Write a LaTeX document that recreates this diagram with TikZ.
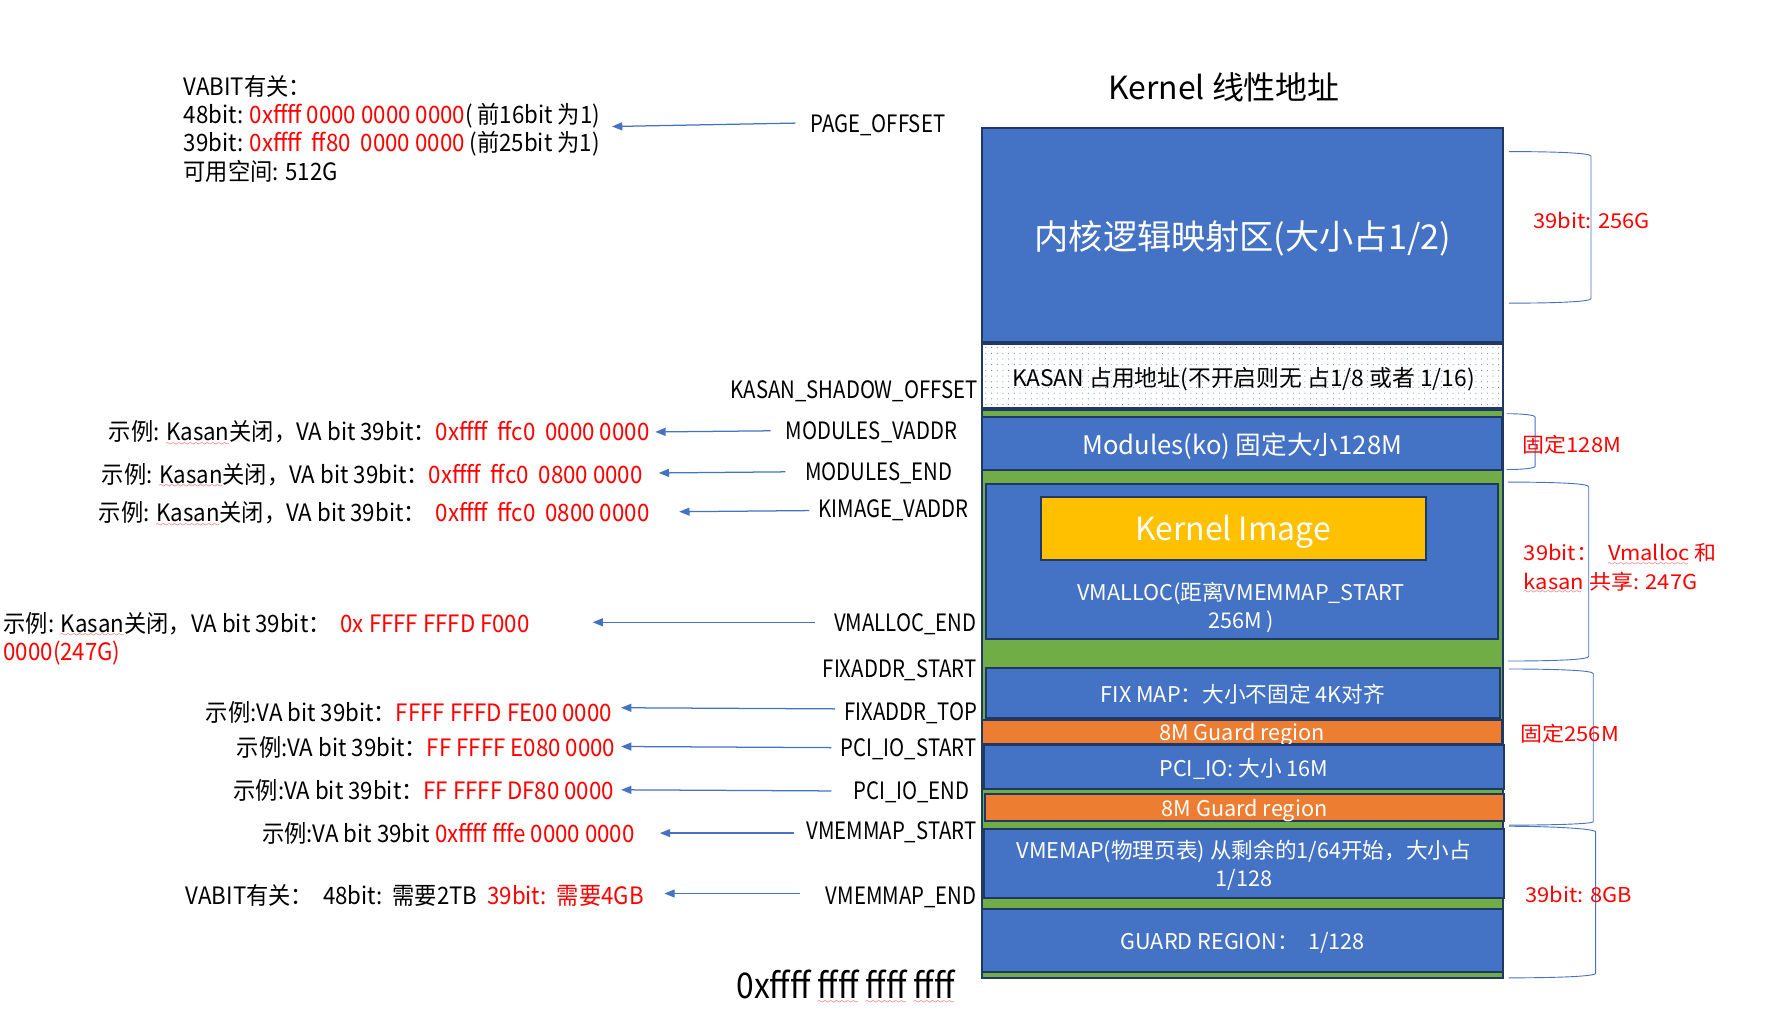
\documentclass[tikz,border=0pt]{standalone}
\usepackage{fontspec}
\usetikzlibrary{arrows.meta,patterns.meta}
\setmainfont{Noto Sans CJK SC}
\newfontfamily\cjk{Noto Sans CJK SC}
\newfontfamily\narrowf[FakeStretch=0.85]{Noto Sans CJK SC}
\newfontfamily\expf[FakeStretch=0.93]{Noto Sans CJK SC}
\newfontfamily\botf[FakeStretch=0.9]{Noto Sans CJK SC}
\newfontfamily\widef[FakeStretch=1.07]{Noto Sans CJK SC}
\definecolor{boxblue}{HTML}{4472C4}
\definecolor{navy}{HTML}{1F3864}
\definecolor{grn}{HTML}{70AD47}
\definecolor{orng}{HTML}{ED7D31}
\definecolor{ylw}{HTML}{FFC000}
\definecolor{arrblue}{HTML}{4472C4}
\definecolor{rd}{HTML}{FF0000}
\font\sixly=lasy6
\newsavebox\wbox
\newcommand\redwave[1]{\sbox\wbox{#1}\rlap{\usebox\wbox}\textcolor{rd}{\lower4pt\hbox to \wd\wbox{\leaders\hbox{\sixly\char58}\hfil}}}
\begin{document}
\begin{tikzpicture}[x=1pt,y=-1pt,
  blk/.style={draw=navy,line width=1.8pt,fill=boxblue,text=white,align=center,inner sep=0pt,text depth=0pt},
  btxt/.style={font=\cjk\fontsize{19}{25}\selectfont,text=white,align=center,inner sep=0pt},
  lab/.style={font=\narrowf\fontsize{21}{25}\selectfont,inner sep=0pt,align=left,text depth=0pt},
  exp/.style={font=\expf\fontsize{21}{24.7}\selectfont,inner sep=0pt,align=left,text depth=0pt},
  arr/.style={draw=arrblue,line width=1.1pt,-{Triangle[length=9pt,width=7pt]}},
  brc/.style={draw=arrblue,line width=0.8pt},
  rlab/.style={font=\widef\fontsize{18}{25}\selectfont,text=rd,anchor=west,inner sep=0pt,align=left,text depth=0pt}
]
\useasboundingbox (0,0) rectangle (1568,895);

% title
\node[font=\cjk\fontsize{28}{30}\selectfont] (title) at (1074,77) {Kernel 线性地址};

% column
\node[draw=navy,line width=1.8pt,fill=grn,minimum width=457pt,minimum height=498pt,inner sep=0pt] (col) at (1090.5,609) {};
\node[blk,minimum width=457pt,minimum height=188pt,font=\cjk\fontsize{30}{32}\selectfont] (lm) at (1090.5,206) {内核逻辑映射区(大小占1/2)};
\node[draw=navy,line width=1.8pt,fill=white,minimum width=457pt,minimum height=56pt,inner sep=0pt] (kasan) at (1090.5,330) {};
\fill[pattern={Dots[distance=5pt,radius=0.45pt]},pattern color=boxblue] ([shift={(2,-2)}]kasan.south west) rectangle ([shift={(-2,2)}]kasan.north east);
\node[font=\cjk\fontsize{20}{25}\selectfont,inner sep=0pt,text depth=0pt] (kasantxt) at (1091,331) {KASAN 占用地址(不开启则无 占1/8 或者 1/16)};
\node[blk,minimum width=456pt,minimum height=46pt,font=\cjk\fontsize{22.5}{25}\selectfont] (mod) at (1090,389) {Modules(ko) 固定大小128M};
\node[blk,minimum width=449pt,minimum height=136pt] (vm) at (1089.5,493) {};
\node[draw=navy,line width=1.8pt,fill=ylw,text=white,minimum width=338pt,minimum height=55pt,inner sep=0pt,text depth=0pt,font=\cjk\fontsize{28}{30}\selectfont] (ki) at (1082,463.5) {Kernel Image};
\node[btxt] (vmtxt) at (1089,533) {VMALLOC(距离VMEMMAP\_START\\256M )};
\node[blk,minimum width=451pt,minimum height=44pt,font=\cjk\fontsize{19}{25}\selectfont] (fix) at (1090.5,608) {FIX MAP：大小不固定 4K对齐};
\node[blk,fill=orng,minimum width=456pt,minimum height=21pt,font=\cjk\fontsize{19}{25}\selectfont] (g1) at (1090,642.5) {8M Guard region};
\node[blk,minimum width=457pt,minimum height=38pt,font=\cjk\fontsize{19}{25}\selectfont] (pci) at (1091.5,673) {PCI\_IO: 大小 16M};
\node[blk,fill=orng,minimum width=456pt,minimum height=23pt,font=\cjk\fontsize{19}{25}\selectfont] (g2) at (1092,708.5) {8M Guard region};
\node[blk,minimum width=457pt,minimum height=61pt,font=\cjk\fontsize{19}{25}\selectfont] (vmemap) at (1091.5,757.5) {VMEMAP(物理页表) 从剩余的1/64开始，大小占\\1/128};
\node[blk,minimum width=457pt,minimum height=55pt,font=\cjk\fontsize{19}{25}\selectfont] (gr) at (1090.5,825.5) {GUARD REGION：\ \ 1/128};

% right-hand labels beside the column
\node[lab,anchor=west] (po) at (711,108) {PAGE\_OFFSET};
\node[lab,anchor=east] (kso) at (858,342) {KASAN\_SHADOW\_OFFSET};
\node[lab,anchor=east] (mv) at (840,378) {MODULES\_VADDR};
\node[lab,anchor=east] (me) at (836,414) {MODULES\_END};
\node[lab,anchor=east] (kv) at (850,446) {KIMAGE\_VADDR};
\node[lab,anchor=east] (ve) at (857,546) {VMALLOC\_END};
\node[lab,anchor=east] (fs) at (857,587) {FIXADDR\_START};
\node[lab,anchor=east] (ft) at (858,624) {FIXADDR\_TOP};
\node[lab,anchor=east] (ps) at (857,656) {PCI\_IO\_START};
\node[lab,anchor=east] (pe) at (851,694) {PCI\_IO\_END};
\node[lab,anchor=east] (vs) at (857,729) {VMEMMAP\_START};
\node[lab,anchor=east] (vend) at (857,786) {VMEMMAP\_END};

% left-hand explanations
\node[exp,anchor=north west] (vabit) at (161,66) {VABIT有关：\\48bit: \textcolor{rd}{0xffff 0000 0000 0000}( 前16bit 为1)\\39bit: \textcolor{rd}{0xffff\ \ ff80\ \ 0000 0000} (前25bit 为1)\\可用空间: 512G};
\node[exp,anchor=east] (xmv) at (570,378) {示例: \redwave{Kasan}关闭，VA bit 39bit：\textcolor{rd}{0xffff\ \ ffc0\ \ 0000 0000}};
\node[exp,anchor=east] (xme) at (564,415) {示例: \redwave{Kasan}关闭，VA bit 39bit：\textcolor{rd}{0xffff\ \ ffc0\ \ 0800 0000}};
\node[exp,anchor=east] (xkv) at (570,449) {示例: \redwave{Kasan}关闭，VA bit 39bit：\ \ \textcolor{rd}{0xffff\ \ ffc0\ \ 0800 0000}};
\node[exp,anchor=north west] (xve) at (3,537) {示例: \redwave{Kasan}关闭，VA bit 39bit：\ \ \textcolor{rd}{0x FFFF FFFD F000}\\\textcolor{rd}{0000(247G)}};
\node[exp,anchor=east] (xft) at (537,624) {示例:VA bit 39bit：\textcolor{rd}{FFFF FFFD FE00 0000}};
\node[exp,anchor=east] (xps) at (540,655) {示例:VA bit 39bit：\textcolor{rd}{FF FFFF E080 0000}};
\node[exp,anchor=east] (xpe) at (539,693) {示例:VA bit 39bit：\textcolor{rd}{FF FFFF DF80 0000}};
\node[exp,anchor=east] (xvs) at (557,730) {示例:VA bit 39bit \textcolor{rd}{0xffff fffe 0000 0000}};
\node[exp,anchor=east] (xvend) at (565,785) {VABIT有关：\ \ 48bit:\ \ 需要2TB\ \ \textcolor{rd}{39bit:\ \ 需要4GB}};

\node[font=\botf\fontsize{31}{34}\selectfont,inner sep=0pt,text depth=0pt] (bot) at (742,864) {0xffff \redwave{ffff} \redwave{ffff} \redwave{ffff}};

% arrow tips
\coordinate (tpo) at (537,111);
\coordinate (tmv) at (575,379);
\coordinate (tme) at (578,415);
\coordinate (tkv) at (596,449);
\coordinate (tve) at (520,546);
\coordinate (tft) at (545,621);
\coordinate (tps) at (545,655);
\coordinate (tpe) at (545,693);
\coordinate (tvs) at (579,731);
\coordinate (tvend) at (583,784);

\draw[arr] ([xshift=-13pt]po.west) -- (tpo);
\draw[arr] ([xshift=-13pt]mv.west) -- (tmv);
\draw[arr] ([xshift=-17pt]me.west) -- (tme);
\draw[arr] ([xshift=-8pt,yshift=-2pt]kv.west) -- (tkv);
\draw[arr] ([xshift=-17pt]ve.west) -- (tve);
\draw[arr] ([xshift=-8pt,yshift=2pt]ft.west) -- (tft);
\draw[arr] ([xshift=-8pt]ps.west) -- (tps);
\draw[arr] ([xshift=-19pt]pe.west) -- (tpe);
\draw[arr] ([xshift=-11pt,yshift=-2pt]vs.west) -- (tvs);
\draw[arr] ([xshift=-23pt,yshift=2pt]vend.west) -- (tvend);

% braces
\draw[brc] (1324,133) .. controls (1360,133) and (1396,134) .. (1396,137) -- (1396,262) .. controls (1396,265) and (1360,266) .. (1324,266);
\draw[brc] (1322,363) .. controls (1335,363) and (1347,364) .. (1347,366) -- (1347,409) .. controls (1347,411) and (1335,412) .. (1322,412);
\draw[brc] (1323,423) .. controls (1360,423) and (1394,424) .. (1394,427) -- (1394,576) .. controls (1394,579) and (1360,580) .. (1323,580);
\draw[brc] (1324,587) .. controls (1360,587) and (1398,588) .. (1398,591) -- (1398,721) .. controls (1398,723) and (1360,724) .. (1324,724);
\draw[brc] (1324,725) .. controls (1360,725) and (1400,727) .. (1400,730) -- (1400,854) .. controls (1400,857) and (1360,858) .. (1324,858);

\node[rlab] (r1) at (1345,193) {39bit: 256G};
\node[rlab] (r2) at (1336,389) {固定128M};
\node[rlab,anchor=north west] (r3) at (1337,477) {39bit：\ \ \redwave{Vmalloc} 和\\\redwave{kasan} 共享: 247G};
\node[rlab] (r4) at (1334,643) {固定256M};
\node[rlab] (r5) at (1338,785) {39bit: 8GB};
\end{tikzpicture}
\end{document}
